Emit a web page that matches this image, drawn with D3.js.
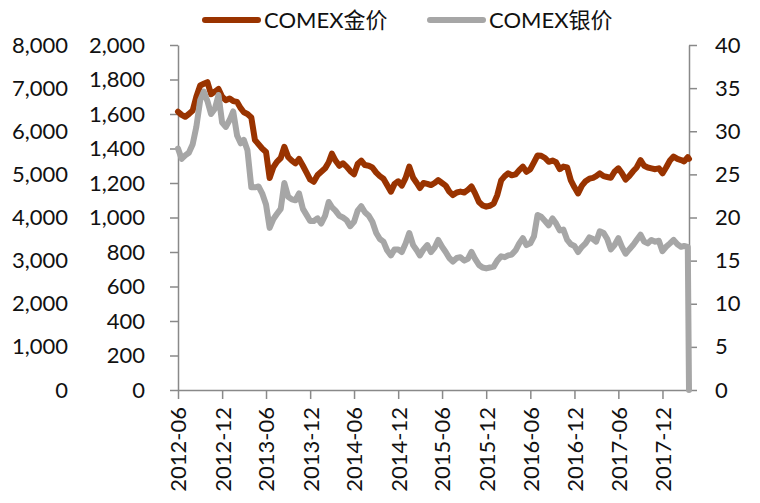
<!DOCTYPE html>
<html>
<head>
<meta charset="utf-8">
<script src="https://cdn.jsdelivr.net/npm/d3@7/dist/d3.min.js"></script>
<style>
body { margin: 0; background: #fff; }
svg text { font-family: Lato, 'Noto Sans CJK SC', sans-serif; fill: #111; }
</style>
</head>
<body>
<svg id="chart" width="760" height="503"></svg>
<script>
// series names as shown in the legend
var seriesNames = ['COMEX金价', 'COMEX银价'];

// first observation, then one reading per half month (1st and 16th), plus the last day
var firstMonth = '2012-06';
var lastDate = '2018-03-21';

// COMEX gold, USD/oz (left axis)
var goldPrice = [
  1613, 1595, 1584, 1600, 1620, 1700, 1765, 1775, 1785, 1715,
  1730, 1745, 1700, 1680, 1690, 1675, 1670, 1634, 1610, 1600,
  1580, 1449, 1425, 1400, 1380, 1229, 1290, 1323, 1345, 1410,
  1350, 1330, 1314, 1340, 1300, 1260, 1220, 1207, 1246, 1265,
  1285, 1320, 1370, 1330, 1300, 1314, 1295, 1270, 1250, 1310,
  1330, 1304, 1300, 1290, 1260, 1240, 1225, 1188, 1150, 1195,
  1210, 1185, 1230, 1295, 1230, 1200, 1171, 1200, 1195, 1188,
  1200, 1217, 1200, 1185, 1150, 1130, 1145, 1150, 1145, 1160,
  1180, 1140, 1090, 1070, 1063, 1068, 1080, 1130, 1215, 1240,
  1256, 1245, 1250, 1275, 1295, 1265, 1280, 1320, 1360, 1358,
  1345, 1323, 1330, 1320, 1280, 1295, 1290, 1215, 1175, 1140,
  1185, 1210, 1225, 1230, 1240, 1256, 1240, 1235, 1230, 1265,
  1285, 1256, 1220, 1240, 1268, 1290, 1333, 1300, 1290, 1285,
  1280, 1285, 1256, 1290, 1330, 1353, 1340, 1333, 1325, 1350,
  1340
];

// COMEX silver, USD/oz (right axis); the last day is recorded as 0
var silverPrice = [
  28.0, 26.8, 27.2, 27.5, 28.5, 30.5, 33.6, 34.6, 33.5, 32.0,
  32.6, 34.2, 31.0, 30.5, 31.3, 32.3, 29.5, 28.6, 29.0, 27.8,
  23.5, 23.5, 23.6, 22.8, 21.5, 18.8, 19.8, 20.4, 21.0, 24.0,
  22.4, 22.1, 22.0, 22.8, 21.0, 20.3, 19.6, 19.6, 19.9, 19.3,
  20.2, 21.8, 21.2, 20.8, 20.2, 20.0, 19.7, 19.0, 19.5, 20.8,
  21.3, 20.6, 20.2, 19.5, 18.2, 17.5, 17.2, 16.2, 15.6, 16.3,
  16.3, 16.0, 17.0, 18.2, 16.8, 16.2, 15.6, 16.3, 16.8, 16.0,
  16.5, 17.4, 16.6, 16.0, 15.3, 14.9, 15.3, 15.4, 15.0, 15.2,
  16.0, 15.2, 14.5, 14.2, 14.1, 14.2, 14.3, 15.0, 15.5, 15.4,
  15.6, 15.7, 16.2, 17.0, 17.6, 16.8, 17.0, 17.8, 20.3, 20.1,
  19.6, 19.1, 19.9, 19.3, 18.5, 18.6, 17.4, 16.9, 16.7, 16.0,
  16.6, 17.0, 17.7, 17.5, 17.2, 18.4, 18.2, 17.5, 16.3, 16.8,
  17.6, 16.6, 15.8, 16.3, 16.8, 17.4, 18.0, 17.2, 17.0, 17.4,
  17.2, 17.3, 16.1, 16.6, 17.0, 17.4, 16.9, 16.6, 16.7, 16.6,
  0
];

var xTickLabels = ['2012-06', '2012-12', '2013-06', '2013-12', '2014-06', '2014-12',
  '2015-06', '2015-12', '2016-06', '2016-12', '2017-06', '2017-12'];
var goldTicks = [0, 200, 400, 600, 800, 1000, 1200, 1400, 1600, 1800, 2000];
var outerTicks = [0, 1000, 2000, 3000, 4000, 5000, 6000, 7000, 8000];
var silverTicks = [0, 5, 10, 15, 20, 25, 30, 35, 40];

var GOLD = '#993300';
var SILVER = '#a6a6a6';
var AXIS = '#898989';

var svg = d3.select('#chart');
var plotLeft = 178, plotRight = 689, plotTop = 45, plotBottom = 390;

var parseMonth = d3.timeParse('%Y-%m');
var parseDay = d3.timeParse('%Y-%m-%d');
var start = parseMonth(firstMonth);
var dates = goldPrice.map(function (d, i) {
    if (i === goldPrice.length - 1) return parseDay(lastDate);
    return new Date(start.getFullYear(), start.getMonth() + Math.floor(i / 2), i % 2 ? 16 : 1);
});

var x = d3.scaleTime().domain([start, parseDay(lastDate)]).range([plotLeft, plotRight]);
var yGold = d3.scaleLinear().domain([0, 2000]).range([plotBottom, plotTop]);
var yOuter = d3.scaleLinear().domain([0, 8000]).range([plotBottom, plotTop]);
var ySilver = d3.scaleLinear().domain([0, 40]).range([plotBottom, plotTop]);

var styleAxis = function (g) {
    g.attr('font-family', null).attr('font-size', null);
    g.selectAll('text').style('font-size', '22px');
    g.selectAll('path, line').attr('stroke', AXIS).attr('stroke-width', 1.5);
};

// outer left labels, no line or ticks
svg.append('g')
    .attr('transform', 'translate(68,0)')
    .call(d3.axisLeft(yOuter).tickValues(outerTicks).tickFormat(d3.format(',')).tickSize(0).tickPadding(0))
    .call(styleAxis)
    .call(function (g) { g.select('.domain').remove(); g.selectAll('line').remove(); });

svg.append('g')
    .attr('transform', 'translate(' + plotLeft + ',0)')
    .call(d3.axisLeft(yGold).tickValues(goldTicks).tickFormat(d3.format(',')).tickSizeInner(8).tickSizeOuter(0).tickPadding(25))
    .call(styleAxis);

svg.append('g')
    .attr('transform', 'translate(' + plotRight + ',0)')
    .call(d3.axisRight(ySilver).tickValues(silverTicks).tickSizeInner(8).tickSizeOuter(0).tickPadding(18))
    .call(styleAxis);

svg.append('g')
    .attr('transform', 'translate(0,' + plotBottom + ')')
    .call(d3.axisBottom(x).tickValues(xTickLabels.map(parseMonth)).tickFormat(d3.timeFormat('%Y-%m')).tickSizeInner(9).tickSizeOuter(0))
    .call(styleAxis)
    .call(function (g) {
        g.selectAll('text')
            .attr('transform', 'rotate(-90)')
            .attr('text-anchor', 'end')
            .attr('x', -17)
            .attr('y', 0)
            .attr('dy', '0.36em');
    });

var goldLine = d3.line()
    .x(function (d, i) { return x(dates[i]); })
    .y(function (d) { return yGold(d); });
var silverLine = d3.line()
    .x(function (d, i) { return x(dates[i]); })
    .y(function (d) { return ySilver(d); });

svg.append('path')
    .datum(goldPrice)
    .attr('d', goldLine)
    .attr('fill', 'none')
    .attr('stroke', GOLD)
    .attr('stroke-width', 6)
    .attr('stroke-linejoin', 'round')
    .attr('stroke-linecap', 'round');

svg.append('path')
    .datum(silverPrice)
    .attr('d', silverLine)
    .attr('fill', 'none')
    .attr('stroke', SILVER)
    .attr('stroke-width', 6)
    .attr('stroke-linejoin', 'round')
    .attr('stroke-linecap', 'round');

// legend
var legend = svg.append('g').selectAll('g')
    .data([{ name: seriesNames[0], color: GOLD, x: 205 }, { name: seriesNames[1], color: SILVER, x: 430 }])
    .enter().append('g')
    .attr('transform', function (d) { return 'translate(' + d.x + ',20)'; });
legend.append('line')
    .attr('x1', 0).attr('x2', 53)
    .attr('stroke', function (d) { return d.color; })
    .attr('stroke-width', 6)
    .attr('stroke-linecap', 'round');
legend.append('text')
    .attr('x', 59)
    .attr('dy', '0.36em')
    .style('font-size', '22px')
    .text(function (d) { return d.name; });
</script>
</body>
</html>
